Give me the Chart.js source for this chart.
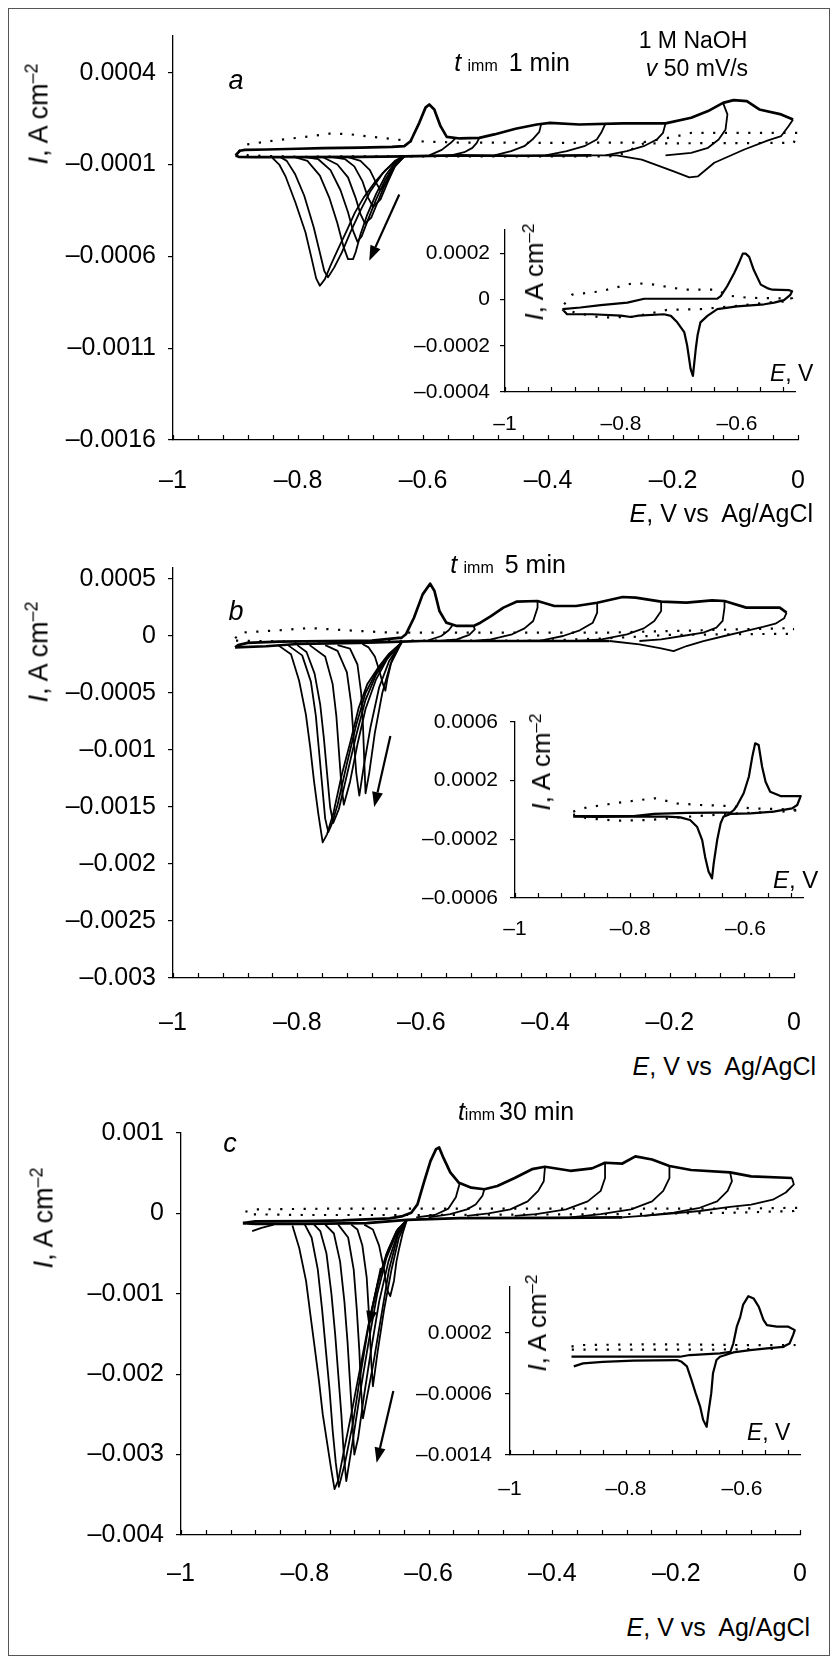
<!DOCTYPE html>
<html>
<head>
<meta charset="utf-8">
<script src="https://cdn.jsdelivr.net/npm/chart.js@4.4.1/dist/chart.umd.min.js"></script>
<style>
  body { margin: 0; background: #fff; }
  #fig { position: relative; width: 831px; height: 1660px; overflow: hidden;
         font-family: "Liberation Sans", Arial, Helvetica, sans-serif; color: #000; background: #fff; }
  #frame { position: absolute; left: 8px; top: 8px; width: 822px; height: 1648px;
           border: 1.5px solid #555; box-sizing: border-box; }
  canvas { position: absolute; }
  .t { position: absolute; white-space: nowrap; line-height: 1; transform: translate(-50%, -50%); }
  .r { transform: translate(-100%, -50%); }
  .l { transform: translate(0, -50%); }
  .rot { transform: translate(-50%, -50%) rotate(-90deg); }
  .t sup { font-size: 0.66em; position: relative; top: -0.55em; vertical-align: baseline; }
  .sm { font-size: 16px; margin: 0 4px 0 2px; }
</style>
</head>
<body>
<div id="fig">
  <div id="frame"></div>
  <canvas id="cA" width="831" height="500" style="left:0;top:0"></canvas>
  <canvas id="cB" width="831" height="520" style="left:0;top:520px"></canvas>
  <canvas id="cC" width="831" height="530" style="left:0;top:1080px"></canvas>
  <canvas id="iA" width="420" height="250" style="left:400px;top:200px"></canvas>
  <canvas id="iB" width="420" height="270" style="left:400px;top:690px"></canvas>
  <canvas id="iC" width="420" height="270" style="left:400px;top:1250px"></canvas>

  <!-- panel a -->
  <div class="t" style="left:236px;top:80px;font-size:27px"><i>a</i></div>
  <div class="t" style="left:512px;top:62px;font-size:25px"><i>t</i><span class="sm"> imm</span> 1 min</div>
  <div class="t" style="left:693px;top:40px;font-size:23px">1 M NaOH</div>
  <div class="t" style="left:697px;top:68px;font-size:23px"><i>v</i> 50 mV/s</div>
  <div class="t rot" style="left:39px;top:114px;font-size:27px"><i>I</i>, A cm<sup>–2</sup></div>
  <div class="t r" style="left:813px;top:513px;font-size:25px"><i>E</i>, V vs&nbsp; Ag/AgCl</div>
  <div class="t rot" style="left:534px;top:272px;font-size:26px"><i>I</i>, A cm<sup>–2</sup></div>
  <div class="t l" style="left:770px;top:373px;font-size:23px"><i>E</i>, V</div>

  <!-- panel b -->
  <div class="t" style="left:236px;top:611px;font-size:27px"><i>b</i></div>
  <div class="t" style="left:508px;top:564px;font-size:25px"><i>t</i><span class="sm"> imm</span> 5 min</div>
  <div class="t rot" style="left:39px;top:652px;font-size:27px"><i>I</i>, A cm<sup>–2</sup></div>
  <div class="t r" style="left:816px;top:1066px;font-size:25px"><i>E</i>, V vs&nbsp; Ag/AgCl</div>
  <div class="t rot" style="left:541px;top:762px;font-size:26px"><i>I</i>, A cm<sup>–2</sup></div>
  <div class="t l" style="left:773px;top:880px;font-size:24px"><i>E</i>, V</div>

  <!-- panel c -->
  <div class="t" style="left:230px;top:1143px;font-size:27px"><i>c</i></div>
  <div class="t" style="left:516px;top:1111px;font-size:25px"><i>t</i><span class="sm" style="margin-left:0">imm</span>30 min</div>
  <div class="t rot" style="left:44px;top:1218px;font-size:27px"><i>I</i>, A cm<sup>–2</sup></div>
  <div class="t r" style="left:810px;top:1627px;font-size:25px"><i>E</i>, V vs&nbsp; Ag/AgCl</div>
  <div class="t rot" style="left:537px;top:1323px;font-size:26px"><i>I</i>, A cm<sup>–2</sup></div>
  <div class="t l" style="left:747px;top:1432px;font-size:23px"><i>E</i>, V</div>
</div>

<script>
// ---------- tick values ----------
const xTicksMain = [-1, -0.8, -0.6, -0.4, -0.2, 0];
const xTicksInset = [-1, -0.8, -0.6];
const yTicksA = [0.0004, -0.0001, -0.0006, -0.0011, -0.0016];
const yTicksAInset = [0.0002, 0, -0.0002, -0.0004];
const yTicksB = [0.0005, 0, -0.0005, -0.001, -0.0015, -0.002, -0.0025, -0.003];
const yTicksBInset = [0.0006, 0.0002, -0.0002, -0.0006];
const yTicksC = [0.001, 0, -0.001, -0.002, -0.003, -0.004];
const yTicksCInset = [0.0002, -0.0006, -0.0014];

// ---------- panel a (1 min), pairs are [E in V, I in A cm-2] ----------
const aForward = [[-0.9,-0.00005],[-0.893,-0.000025],[-0.885,-0.00002],[-0.85,-0.000018],[-0.8,-0.000014],[-0.76,-0.000011],[-0.7,-0.000008],[-0.65,-0.000004],[-0.63,0],[-0.62,0.000027],[-0.606,0.000127],[-0.596,0.00021],[-0.59,0.000227],[-0.582,0.0002],[-0.572,0.000109],[-0.562,0.000051],[-0.541,0.000042],[-0.51,0.000045],[-0.486,0.000064],[-0.452,0.000095],[-0.418,0.000118],[-0.397,0.000127],[-0.35,0.000118],[-0.28,0.000124],[-0.212,0.000124],[-0.171,0.000155],[-0.144,0.000191],[-0.12,0.000236],[-0.103,0.000251],[-0.082,0.000245],[-0.062,0.0002],[-0.027,0.000173],[-0.008,0.000145]];
const aReturns = [
  [[-0.008,0.000145],[-0.015,0.00011],[-0.027,0.000055],[-0.048,0.000032],[-0.086,-0.000018],[-0.134,-0.00009],[-0.16,-0.000164],[-0.174,-0.00017],[-0.2,-0.000136],[-0.25,-0.000073],[-0.29,-0.00005],[-0.33,-0.00005]],
  [[-0.12,0.000236],[-0.113,0.000173],[-0.116,0.000091],[-0.127,0.000036],[-0.144,-0.000009],[-0.171,-0.000036],[-0.212,-0.00005]],
  [[-0.212,0.000124],[-0.216,0.000073],[-0.226,0.000036],[-0.247,0],[-0.274,-0.000027],[-0.308,-0.00005]],
  [[-0.308,0.000124],[-0.315,0.000073],[-0.322,0.000036],[-0.342,0],[-0.37,-0.000027],[-0.404,-0.00005]],
  [[-0.411,0.00012],[-0.414,0.000078],[-0.425,0.000036],[-0.438,0],[-0.459,-0.000027],[-0.486,-0.00005]],
  [[-0.51,0.000045],[-0.514,0.000018],[-0.521,-0.000009],[-0.534,-0.000033],[-0.555,-0.00005]],
  [[-0.548,0.000044],[-0.555,0.00002],[-0.57,-0.00002],[-0.59,-0.00005]]
];
const aLower = [[-0.33,-0.00005],[-0.45,-0.000052],[-0.55,-0.00005],[-0.63,-0.000055],[-0.7,-0.000058],[-0.8,-0.00006],[-0.87,-0.00006],[-0.895,-0.000058],[-0.9,-0.00005]];
const aCathodic = [
  [[-0.63,-0.000055],[-0.641,-0.000073],[-0.66,-0.00013],[-0.678,-0.0002],[-0.695,-0.00028],[-0.709,-0.000362],[-0.722,-0.00046],[-0.736,-0.000561],[-0.748,-0.00065],[-0.757,-0.000724],[-0.765,-0.00076],[-0.771,-0.00072],[-0.778,-0.000615],[-0.788,-0.00047],[-0.804,-0.000308],[-0.82,-0.000164],[-0.83,-0.0001],[-0.841,-0.000064]],
  [[-0.63,-0.000055],[-0.645,-0.00008],[-0.665,-0.00015],[-0.685,-0.00025],[-0.7,-0.00035],[-0.715,-0.00046],[-0.73,-0.00058],[-0.742,-0.00066],[-0.752,-0.000714],[-0.758,-0.00068],[-0.765,-0.00058],[-0.775,-0.00044],[-0.79,-0.00027],[-0.805,-0.00015],[-0.818,-0.00008],[-0.828,-0.00006]],
  [[-0.63,-0.000055],[-0.645,-0.00009],[-0.66,-0.00016],[-0.675,-0.00026],[-0.69,-0.00038],[-0.7,-0.00048],[-0.708,-0.00058],[-0.712,-0.000615],[-0.72,-0.000615],[-0.727,-0.00055],[-0.737,-0.00042],[-0.75,-0.00028],[-0.765,-0.00016],[-0.785,-0.00008],[-0.805,-0.00006]],
  [[-0.63,-0.000055],[-0.645,-0.0001],[-0.66,-0.00018],[-0.675,-0.00029],[-0.688,-0.0004],[-0.698,-0.00049],[-0.705,-0.00052],[-0.712,-0.00046],[-0.72,-0.00036],[-0.732,-0.00024],[-0.748,-0.00013],[-0.768,-0.00007],[-0.788,-0.00006]],
  [[-0.63,-0.000055],[-0.645,-0.0001],[-0.66,-0.0002],[-0.672,-0.0003],[-0.683,-0.00039],[-0.693,-0.00042],[-0.7,-0.00037],[-0.708,-0.00028],[-0.72,-0.00017],[-0.737,-0.0001],[-0.76,-0.00006]],
  [[-0.63,-0.000055],[-0.645,-0.00011],[-0.657,-0.0002],[-0.668,-0.00029],[-0.68,-0.00033],[-0.688,-0.00028],[-0.697,-0.00019],[-0.71,-0.00011],[-0.725,-0.00007],[-0.745,-0.00006]],
  [[-0.63,-0.000055],[-0.645,-0.00011],[-0.657,-0.00019],[-0.668,-0.00024],[-0.675,-0.0002],[-0.685,-0.00013],[-0.7,-0.00008],[-0.72,-0.00006]]
];
const aDotted = [[-0.895,-0.00003],[-0.885,0.000008],[-0.84,0.00003],[-0.795,0.000048],[-0.75,0.000068],[-0.72,0.000066],[-0.68,0.00005],[-0.62,0.000028],[-0.55,0.00002],[-0.4,0.000018],[-0.25,0.00002],[-0.2,0.00005],[-0.17,0.000073],[0,0.000073],[-0.007,0.000018],[-0.247,0.000015],[-0.28,-0.00004],[-0.3,-0.000055],[-0.5,-0.000055],[-0.7,-0.000055],[-0.8,-0.000058],[-0.88,-0.00005],[-0.895,-0.00003]];
const aArrows = [[[-0.638,-0.000263],[-0.686,-0.000624]]];
const aInsetSolid = [[-0.901,-0.000042],[-0.87,-0.000035],[-0.835,-0.000025],[-0.789,-0.000014],[-0.76,0.000003],[-0.634,0.000003],[-0.628,0.000014],[-0.617,0.000057],[-0.605,0.000113],[-0.597,0.000156],[-0.59,0.000198],[-0.585,0.000198],[-0.579,0.000184],[-0.571,0.000127],[-0.559,0.000064],[-0.548,0.000049],[-0.539,0.000042],[-0.51,0.00004],[-0.505,0.000035],[-0.508,0.00002],[-0.519,-0.000003],[-0.536,-0.000014],[-0.553,-0.000021],[-0.6,-0.00003],[-0.634,-0.000042],[-0.651,-0.000071],[-0.663,-0.000099],[-0.668,-0.000155],[-0.671,-0.000212],[-0.674,-0.000283],[-0.676,-0.00033],[-0.68,-0.0003],[-0.686,-0.000198],[-0.691,-0.000141],[-0.703,-0.000099],[-0.714,-0.000071],[-0.726,-0.000064],[-0.77,-0.00007],[-0.783,-0.000076],[-0.8,-0.00007],[-0.85,-0.000064],[-0.893,-0.000064],[-0.901,-0.000042]];
const aInsetDotted = [[-0.898,-0.000021],[-0.884,0.000021],[-0.835,0.000035],[-0.778,0.000071],[-0.743,0.000064],[-0.691,0.000042],[-0.634,0.000042],[-0.617,0.000017],[-0.58,0.000007],[-0.52,0.000004],[-0.505,0.000005],[-0.51,-0.000008],[-0.55,-0.000014],[-0.6,-0.000028],[-0.663,-0.000042],[-0.72,-0.000045],[-0.778,-0.000075],[-0.835,-0.000078],[-0.88,-0.000057],[-0.898,-0.000035]];

// ---------- panel b (5 min) ----------
const bForward = [[-0.9,-0.0001],[-0.895,-0.00008],[-0.88,-0.00006],[-0.83,-0.00005],[-0.75,-0.000044],[-0.68,-0.00004],[-0.632,-0.000015],[-0.625,0.000015],[-0.612,0.00016],[-0.598,0.000365],[-0.586,0.000459],[-0.579,0.000395],[-0.571,0.000219],[-0.56,0.000117],[-0.543,0.000088],[-0.516,0.000088],[-0.505,0.000117],[-0.488,0.000175],[-0.468,0.000249],[-0.447,0.000301],[-0.413,0.000307],[-0.386,0.000263],[-0.351,0.000263],[-0.317,0.000292],[-0.276,0.000342],[-0.255,0.000336],[-0.214,0.000301],[-0.173,0.000292],[-0.132,0.000313],[-0.112,0.000307],[-0.077,0.000249],[-0.023,0.000249],[-0.012,0.000205]];
const bReturns = [
  [[-0.012,0.000205],[-0.016,0.000155],[-0.03,0.000108],[-0.05,0.000079],[-0.077,0.000044],[-0.112,0],[-0.146,-0.000044],[-0.173,-0.000088],[-0.194,-0.000132],[-0.214,-0.000108],[-0.249,-0.000073],[-0.297,-0.000044]],
  [[-0.112,0.000307],[-0.112,0.000249],[-0.115,0.000132],[-0.125,0.000073],[-0.146,0.000029],[-0.18,0],[-0.214,-0.000029],[-0.249,-0.000044]],
  [[-0.214,0.000301],[-0.214,0.000219],[-0.225,0.000132],[-0.242,0.000067],[-0.269,0.000015],[-0.31,-0.000029],[-0.351,-0.000044]],
  [[-0.317,0.000292],[-0.317,0.000205],[-0.324,0.000117],[-0.345,0.00005],[-0.372,0],[-0.406,-0.000038],[-0.44,-0.000044]],
  [[-0.413,0.000307],[-0.413,0.000249],[-0.42,0.000132],[-0.434,0.000067],[-0.454,0.000015],[-0.488,-0.000029],[-0.516,-0.000044]],
  [[-0.516,0.000088],[-0.514,0.000058],[-0.523,0.000009],[-0.543,-0.000029],[-0.571,-0.000044]],
  [[-0.55,0.000095],[-0.556,0.00005],[-0.568,0],[-0.59,-0.00004]]
];
const bLower = [[-0.297,-0.000044],[-0.45,-0.000044],[-0.6,-0.000044],[-0.632,-0.00005],[-0.7,-0.00006],[-0.8,-0.00007],[-0.85,-0.00009],[-0.9,-0.0001]];
const bCathodic = [
  [[-0.632,-0.000058],[-0.653,-0.00016],[-0.67,-0.00028],[-0.687,-0.00042],[-0.701,-0.00063],[-0.714,-0.00092],[-0.728,-0.00121],[-0.742,-0.00156],[-0.752,-0.00174],[-0.759,-0.00181],[-0.766,-0.00156],[-0.773,-0.00127],[-0.779,-0.00098],[-0.786,-0.00069],[-0.797,-0.00039],[-0.81,-0.00016],[-0.831,-0.00008]],
  [[-0.632,-0.000058],[-0.655,-0.00018],[-0.672,-0.00031],[-0.69,-0.0005],[-0.705,-0.00078],[-0.72,-0.00112],[-0.735,-0.00148],[-0.745,-0.00166],[-0.75,-0.00172],[-0.755,-0.0016],[-0.76,-0.0013],[-0.765,-0.001],[-0.77,-0.0007],[-0.778,-0.0004],[-0.792,-0.00017],[-0.815,-0.00008]],
  [[-0.632,-0.000058],[-0.655,-0.00019],[-0.673,-0.00034],[-0.69,-0.00056],[-0.705,-0.00087],[-0.72,-0.00122],[-0.733,-0.00152],[-0.742,-0.00164],[-0.747,-0.0015],[-0.752,-0.0012],[-0.757,-0.0009],[-0.763,-0.0006],[-0.772,-0.00033],[-0.785,-0.00014],[-0.8,-0.00008]],
  [[-0.632,-0.000058],[-0.655,-0.0002],[-0.673,-0.00038],[-0.69,-0.00064],[-0.703,-0.00095],[-0.715,-0.00128],[-0.725,-0.00148],[-0.729,-0.0013],[-0.733,-0.001],[-0.737,-0.0007],[-0.743,-0.00042],[-0.755,-0.00018],[-0.78,-0.00008]],
  [[-0.632,-0.000058],[-0.652,-0.00022],[-0.668,-0.00045],[-0.682,-0.0008],[-0.693,-0.00115],[-0.7,-0.0014],[-0.705,-0.0012],[-0.709,-0.0009],[-0.713,-0.0006],[-0.72,-0.00032],[-0.735,-0.00013],[-0.755,-0.00008]],
  [[-0.632,-0.000058],[-0.65,-0.00025],[-0.663,-0.0005],[-0.675,-0.00085],[-0.684,-0.0012],[-0.69,-0.00138],[-0.692,-0.0011],[-0.694,-0.0008],[-0.697,-0.0005],[-0.703,-0.00025],[-0.715,-0.00011],[-0.735,-0.00008]],
  [[-0.632,-0.000058],[-0.64,-0.00011],[-0.648,-0.00022],[-0.655,-0.00038],[-0.658,-0.00048],[-0.662,-0.00042],[-0.668,-0.0003],[-0.675,-0.00018],[-0.685,-0.0001],[-0.695,-0.00007]]
];
const bDotted = [[-0.9,-0.00002],[-0.89,0.00003],[-0.83,0.00005],[-0.78,0.00007],[-0.72,0.00005],[-0.65,0.00003],[-0.5,0.00003],[-0.3,0.00003],[-0.15,0.00005],[0,0.00007],[0,0.00002],[-0.1,0.000015],[-0.2,0.00001],[-0.3,-0.00002],[-0.4,-0.00004],[-0.6,-0.00004],[-0.8,-0.00005],[-0.9,-0.00004]];
const bArrows = [[[-0.65,-0.000877],[-0.676,-0.0015]]];
const bInsetSolid = [[-0.899,-0.000041],[-0.85,-0.000041],[-0.794,-0.000041],[-0.759,-0.000027],[-0.7,-0.00002],[-0.649,-0.000018],[-0.626,-0.000018],[-0.62,0],[-0.614,0.000034],[-0.603,0.000114],[-0.594,0.000227],[-0.588,0.000364],[-0.583,0.000455],[-0.577,0.000443],[-0.571,0.000295],[-0.565,0.000193],[-0.557,0.000125],[-0.539,0.000095],[-0.504,0.000095],[-0.51,0.000034],[-0.519,0.000011],[-0.551,-0.000011],[-0.591,-0.000023],[-0.626,-0.000027],[-0.638,-0.000045],[-0.643,-0.00009],[-0.649,-0.000205],[-0.655,-0.000364],[-0.658,-0.000466],[-0.664,-0.00042],[-0.67,-0.000318],[-0.675,-0.000205],[-0.684,-0.000114],[-0.696,-0.000068],[-0.713,-0.00005],[-0.736,-0.000045],[-0.8,-0.000045],[-0.86,-0.000047],[-0.899,-0.000045]];
const bInsetDotted = [[-0.899,-0.000011],[-0.875,0.000018],[-0.829,0.000045],[-0.783,0.000068],[-0.757,0.00008],[-0.719,0.000045],[-0.678,0.000034],[-0.626,0.000027],[-0.591,0.000011],[-0.533,0.000005],[-0.504,0],[-0.53,-0.00001],[-0.6,-0.00002],[-0.68,-0.00004],[-0.719,-0.000052],[-0.765,-0.000068],[-0.823,-0.000073],[-0.875,-0.000057],[-0.899,-0.00003]];

// ---------- panel c (30 min) ----------
const cForward = [[-0.9,-0.00012],[-0.88,-0.0001],[-0.8,-0.000095],[-0.739,-0.000087],[-0.663,-0.000062],[-0.642,-0.000033],[-0.628,0.000008],[-0.618,0.000112],[-0.607,0.0004],[-0.597,0.00065],[-0.588,0.0008],[-0.583,0.00082],[-0.576,0.00069],[-0.565,0.00051],[-0.551,0.00038],[-0.531,0.00032],[-0.51,0.0003],[-0.489,0.00034],[-0.461,0.00044],[-0.433,0.00055],[-0.412,0.00058],[-0.371,0.00053],[-0.336,0.00056],[-0.315,0.00063],[-0.287,0.00062],[-0.266,0.00071],[-0.239,0.00067],[-0.211,0.00059],[-0.176,0.00054],[-0.113,0.00051],[-0.079,0.00046],[-0.013,0.00044]];
const cReturns = [
  [[-0.013,0.00044],[-0.01,0.00036],[-0.023,0.00026],[-0.044,0.00017],[-0.079,0.00011],[-0.113,0.00008],[-0.162,0.00003],[-0.218,-0.00001],[-0.287,-0.00005]],
  [[-0.113,0.00051],[-0.11,0.0004],[-0.117,0.00028],[-0.134,0.00015],[-0.162,0.00007],[-0.204,0.00001],[-0.252,-0.00003]],
  [[-0.211,0.00059],[-0.211,0.00044],[-0.221,0.00028],[-0.239,0.00015],[-0.273,0.00005],[-0.322,-0.00001],[-0.371,-0.00005]],
  [[-0.315,0.00063],[-0.315,0.00044],[-0.322,0.00028],[-0.343,0.00015],[-0.378,0.00005],[-0.426,-0.00001],[-0.461,-0.00003]],
  [[-0.412,0.00058],[-0.414,0.0004],[-0.423,0.00028],[-0.44,0.00015],[-0.468,0.00005],[-0.503,0],[-0.538,-0.00003]],
  [[-0.51,0.0003],[-0.513,0.00022],[-0.524,0.00011],[-0.538,0.00005],[-0.565,-0.00001],[-0.6,-0.00005]],
  [[-0.55,0.00037],[-0.556,0.0002],[-0.568,0.00006],[-0.59,-0.00002],[-0.62,-0.00005]]
];
const cLower = [[-0.287,-0.00005],[-0.4,-0.000055],[-0.55,-0.00006],[-0.635,-0.00008],[-0.7,-0.00012],[-0.8,-0.00013],[-0.88,-0.00013],[-0.9,-0.00012]];
const cTail = [[-0.885,-0.00022],[-0.87,-0.00018],[-0.85,-0.00014]];
const cCathodic = [
  [[-0.635,-0.00008],[-0.65,-0.0002],[-0.665,-0.00045],[-0.68,-0.0008],[-0.695,-0.0013],[-0.71,-0.0019],[-0.725,-0.0025],[-0.738,-0.003],[-0.746,-0.00332],[-0.752,-0.00343],[-0.757,-0.0032],[-0.763,-0.0029],[-0.771,-0.0025],[-0.777,-0.00209],[-0.784,-0.00167],[-0.791,-0.00126],[-0.798,-0.00084],[-0.809,-0.00043],[-0.82,-0.00015]],
  [[-0.635,-0.00008],[-0.652,-0.00022],[-0.668,-0.0005],[-0.683,-0.0009],[-0.697,-0.0014],[-0.71,-0.002],[-0.722,-0.0026],[-0.735,-0.0031],[-0.745,-0.0034],[-0.75,-0.0031],[-0.755,-0.0027],[-0.76,-0.0022],[-0.766,-0.0017],[-0.772,-0.0012],[-0.779,-0.0007],[-0.789,-0.0003],[-0.8,-0.00014]],
  [[-0.635,-0.00008],[-0.652,-0.00025],[-0.668,-0.00055],[-0.683,-0.001],[-0.697,-0.0016],[-0.71,-0.0022],[-0.722,-0.0028],[-0.733,-0.00333],[-0.737,-0.003],[-0.741,-0.0025],[-0.746,-0.002],[-0.751,-0.0015],[-0.757,-0.001],[-0.765,-0.0005],[-0.775,-0.00022],[-0.785,-0.00014]],
  [[-0.635,-0.00008],[-0.65,-0.00025],[-0.665,-0.0006],[-0.68,-0.0011],[-0.693,-0.0017],[-0.705,-0.0023],[-0.714,-0.0028],[-0.72,-0.003],[-0.723,-0.0026],[-0.727,-0.0021],[-0.731,-0.0016],[-0.736,-0.0011],[-0.743,-0.0006],[-0.753,-0.00025],[-0.767,-0.00014]],
  [[-0.635,-0.00008],[-0.65,-0.00028],[-0.664,-0.0007],[-0.677,-0.0013],[-0.69,-0.0019],[-0.7,-0.0023],[-0.706,-0.00255],[-0.709,-0.0022],[-0.712,-0.0017],[-0.716,-0.0012],[-0.721,-0.0007],[-0.73,-0.0003],[-0.746,-0.00014]],
  [[-0.635,-0.00008],[-0.648,-0.0003],[-0.66,-0.0007],[-0.672,-0.0012],[-0.682,-0.0017],[-0.69,-0.00215],[-0.693,-0.0018],[-0.696,-0.0013],[-0.7,-0.0008],[-0.707,-0.0004],[-0.715,-0.0002],[-0.725,-0.00014]],
  [[-0.635,-0.00008],[-0.642,-0.00025],[-0.648,-0.00045],[-0.652,-0.0006],[-0.656,-0.00084],[-0.662,-0.00103],[-0.667,-0.00095],[-0.672,-0.0007],[-0.68,-0.0004],[-0.69,-0.0002],[-0.704,-0.00014]]
];
const cDotted = [[-0.896,0.00002],[-0.88,0.00005],[-0.75,0.00006],[-0.6,0.00006],[-0.3,0.00006],[-0.1,0.00006],[0,0.00007],[-0.01,0.00003],[-0.1,0.00001],[-0.3,-0.00001],[-0.6,-0.00002],[-0.8,-0.00002],[-0.896,-0.00001]];
const cArrows = [[[-0.657,-0.00221],[-0.684,-0.0031]], [[-0.677,-0.00068],[-0.697,-0.0014]]];
const cInsetSolid = [[-0.894,-0.000113],[-0.8,-0.000113],[-0.707,-0.000113],[-0.69,-0.000091],[-0.638,-0.000069],[-0.62,-0.000048],[-0.615,0.00006],[-0.609,0.00028],[-0.603,0.00041],[-0.598,0.00057],[-0.589,0.00068],[-0.58,0.00065],[-0.571,0.00054],[-0.563,0.00037],[-0.557,0.0003],[-0.54,0.00028],[-0.52,0.00028],[-0.509,0.000235],[-0.512,0.00017],[-0.518,0.00006],[-0.529,0.000017],[-0.557,-0.000004],[-0.586,-0.000026],[-0.615,-0.000057],[-0.638,-0.000113],[-0.644,-0.000157],[-0.65,-0.00033],[-0.653,-0.00059],[-0.658,-0.00085],[-0.661,-0.00103],[-0.667,-0.00094],[-0.672,-0.00077],[-0.68,-0.00059],[-0.687,-0.00042],[-0.695,-0.00024],[-0.704,-0.00018],[-0.712,-0.000157],[-0.787,-0.000165],[-0.84,-0.00018],[-0.874,-0.0002],[-0.89,-0.00024]];
const cInsetDotted = [[-0.894,0.00002],[-0.88,0.00004],[-0.75,0.00005],[-0.6,0.00004],[-0.52,0.00004],[-0.509,0.00004],[-0.55,-0.00001],[-0.65,-0.00002],[-0.8,-0.00002],[-0.894,-0.00002]];

// ---------- helpers ----------
const FONT = '"Liberation Sans", Arial, Helvetica, sans-serif';
Chart.defaults.font.family = FONT;
Chart.defaults.color = '#000';

function fmt(v) {
  return String(v).replace('-', '\u2013');
}

function line(pairs, w, dotted) {
  return {
    data: pairs.map(p => ({ x: p[0], y: p[1] })),
    showLine: true,
    borderColor: '#000',
    borderWidth: w,
    borderDash: dotted ? [2.2, 9.5] : [],
    borderCapStyle: 'butt',
    borderJoinStyle: 'round',
    pointRadius: 0,
    fill: false,
    tension: 0
  };
}

// inward minor ticks on the E axis, plus the arrows
const extras = {
  id: 'extras',
  afterDraw(chart, args, o) {
    const xs = chart.scales.x, ys = chart.scales.y, ctx = chart.ctx, bottom = chart.chartArea.bottom;
    ctx.save();
    ctx.strokeStyle = '#000';
    ctx.fillStyle = '#000';
    ctx.lineWidth = 1.2;
    ctx.beginPath();
    const n = Math.floor((xs.max - xs.min) / o.step + 1e-6);
    for (let i = 0; i <= n; i++) {
      const px = Math.round(xs.getPixelForValue(xs.min + i * o.step)) + 0.5;
      ctx.moveTo(px, bottom);
      ctx.lineTo(px, bottom - o.len);
    }
    ctx.stroke();
    (o.arrows || []).forEach(a => {
      const x1 = xs.getPixelForValue(a[0][0]), y1 = ys.getPixelForValue(a[0][1]);
      const x2 = xs.getPixelForValue(a[1][0]), y2 = ys.getPixelForValue(a[1][1]);
      const ang = Math.atan2(y2 - y1, x2 - x1), hl = 15, hw = 5.5;
      const bx = x2 - hl * Math.cos(ang), by = y2 - hl * Math.sin(ang);
      ctx.lineWidth = 2.2;
      ctx.beginPath();
      ctx.moveTo(x1, y1);
      ctx.lineTo(bx, by);
      ctx.stroke();
      ctx.beginPath();
      ctx.moveTo(x2, y2);
      ctx.lineTo(bx + hw * Math.sin(ang), by - hw * Math.cos(ang));
      ctx.lineTo(bx - hw * Math.sin(ang), by + hw * Math.cos(ang));
      ctx.closePath();
      ctx.fill();
    });
    ctx.restore();
  }
};

function makeChart(id, c) {
  const cv = document.getElementById(id);
  const left = parseFloat(cv.style.left) || 0, top = parseFloat(cv.style.top) || 0;
  const p = c.plot;
  new Chart(cv, {
    type: 'scatter',
    data: { datasets: c.datasets },
    options: {
      responsive: false,
      animation: false,
      devicePixelRatio: 1,
      events: [],
      layout: { padding: { left: 0, top: p.t - top, right: left + cv.width - p.r, bottom: 0 } },
      plugins: { legend: { display: false }, tooltip: { enabled: false }, extras: { step: 0.04, len: 5, arrows: c.arrows } },
      scales: {
        x: {
          type: 'linear', min: c.xmin, max: c.xmax,
          afterBuildTicks: ax => { ax.ticks = c.xticks.map(v => ({ value: v })); },
          afterFit: s => { s.height = top + cv.height - p.b; },
          ticks: { font: { size: c.font }, padding: c.xpad, maxRotation: 0, autoSkip: false, callback: v => fmt(v) },
          grid: { display: false, drawTicks: false },
          border: { display: true, color: '#000', width: 1.3 }
        },
        y: {
          type: 'linear', min: c.ymin, max: c.ymax,
          afterBuildTicks: ax => { ax.ticks = c.yticks.map(v => ({ value: v })); },
          afterFit: s => { s.width = p.l - left; },
          ticks: { font: { size: c.font }, padding: c.ypad, autoSkip: false, callback: v => fmt(v) },
          grid: { display: true, drawOnChartArea: false, drawTicks: true, tickLength: 5, color: '#000', lineWidth: 1.2 },
          border: { display: true, color: '#000', width: 1.3 }
        }
      }
    },
    plugins: [extras]
  });
}

function mainSets(fw, rets, lower, cath, dotted, extra) {
  const sets = [line(dotted, 2.2, true), line(fw, 2.7), line(lower, 2.7)];
  rets.forEach(r => sets.push(line(r, 1.8)));
  cath.forEach(r => sets.push(line(r, 1.8)));
  (extra || []).forEach(r => sets.push(line(r, 1.8)));
  return sets;
}

// ---------- charts ----------
makeChart('cA', {
  plot: { l: 173, t: 36, r: 806, b: 440 }, xmin: -1, xmax: 0, ymin: -0.0016, ymax: 0.0006,
  xticks: xTicksMain, yticks: yTicksA, font: 25, xpad: 26, ypad: 12, arrows: aArrows,
  datasets: mainSets(aForward, aReturns, aLower, aCathodic, aDotted)
});
makeChart('cB', {
  plot: { l: 173, t: 567.6, r: 806, b: 978 }, xmin: -1, xmax: 0, ymin: -0.003, ymax: 0.0006,
  xticks: xTicksMain, yticks: yTicksB, font: 25, xpad: 30, ypad: 12, arrows: bArrows,
  datasets: mainSets(bForward, bReturns, bLower, bCathodic, bDotted)
});
makeChart('cC', {
  plot: { l: 181, t: 1133, r: 806, b: 1535 }, xmin: -1, xmax: 0, ymin: -0.004, ymax: 0.001,
  xticks: xTicksMain, yticks: yTicksC, font: 25, xpad: 24, ypad: 12, arrows: cArrows,
  datasets: mainSets(cForward, cReturns, cLower, cCathodic, cDotted, [cTail])
});
makeChart('iA', {
  plot: { l: 505, t: 230, r: 795, b: 392 }, xmin: -1, xmax: -0.5, ymin: -0.0004, ymax: 0.0003,
  xticks: xTicksInset, yticks: yTicksAInset, font: 21, xpad: 20, ypad: 10,
  datasets: [line(aInsetDotted, 2.2, true), line(aInsetSolid, 2.2)]
});
makeChart('iB', {
  plot: { l: 515, t: 722, r: 803, b: 898 }, xmin: -1, xmax: -0.5, ymin: -0.0006, ymax: 0.0006,
  xticks: xTicksInset, yticks: yTicksBInset, font: 21, xpad: 19, ypad: 12,
  datasets: [line(bInsetDotted, 2.2, true), line(bInsetSolid, 2.2)]
});
makeChart('iC', {
  plot: { l: 510, t: 1287, r: 800, b: 1455 }, xmin: -1, xmax: -0.5, ymin: -0.0014, ymax: 0.0008,
  xticks: xTicksInset, yticks: yTicksCInset, font: 21, xpad: 22, ypad: 13,
  datasets: [line(cInsetDotted, 2.2, true), line(cInsetSolid, 2.2)]
});
</script>
</body>
</html>
